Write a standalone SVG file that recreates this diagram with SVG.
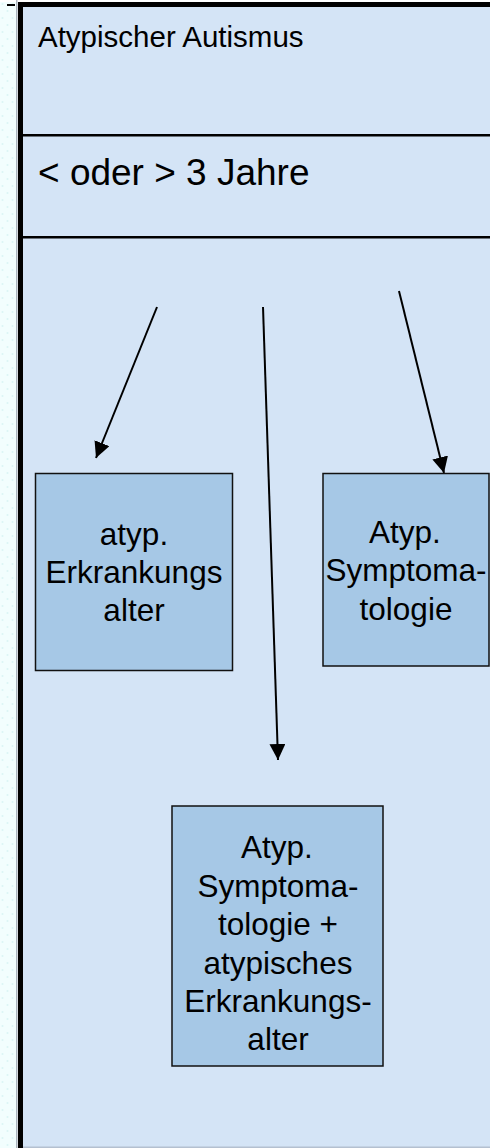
<svg xmlns="http://www.w3.org/2000/svg" width="490" height="1148" viewBox="0 0 490 1148">
  <defs>
    <style>
      .box { fill: #a6c8e6; stroke: #111; stroke-width: 1.5; }
      .t { font-family: "Liberation Sans", Arial, sans-serif; fill: #000; }
      .bt { font-size: 31.5px; text-anchor: middle; }
      .conn line { stroke: #000; stroke-width: 2; marker-end: url(#ah); }
    </style>
    <marker id="ah" markerUnits="userSpaceOnUse" markerWidth="18" markerHeight="17" refX="16" refY="8" orient="auto">
      <path d="M0,0 L16,8 L0,16 z" fill="#000"/>
    </marker>
    <pattern id="dots" width="10" height="14" patternUnits="userSpaceOnUse">
      <rect width="10" height="14" fill="#f2fefe"/>
      <circle cx="2.5" cy="4" r="1" fill="#dcf6f6"/>
      <circle cx="7.5" cy="11" r="1" fill="#dcf6f6"/>
    </pattern>
  </defs>

  <g id="background">
    <rect x="0" y="0" width="17" height="1148" fill="url(#dots)"/>
    <rect x="0" y="0" width="490" height="2" fill="#ffffff"/>
    <rect x="23" y="7" width="467" height="1141" fill="#d4e4f6"/>
    <rect x="16" y="0" width="1.5" height="1148" fill="#a9b3bd"/>
    <rect x="18" y="2" width="5" height="1146" fill="#000"/>
    <rect x="18" y="2" width="472" height="5" fill="#000"/>
    <rect x="7" y="4" width="8" height="2" fill="#000"/>
    <rect x="23" y="1146.5" width="467" height="1.5" fill="#b4c0d0"/>
  </g>

  <g id="header">
    <text class="t" x="38" y="47" font-size="29.5">Atypischer Autismus</text>
    <rect x="23" y="134" width="467" height="2.5" fill="#000"/>
    <text class="t" x="38" y="185" font-size="37">&lt; oder &gt; 3 Jahre</text>
    <rect x="23" y="236" width="467" height="2.5" fill="#000"/>
  </g>

  <g class="conn" id="connectors">
    <line x1="157" y1="307" x2="96" y2="458"/>
    <line x1="263" y1="307" x2="278" y2="760"/>
    <line x1="399" y1="291" x2="444" y2="473"/>
  </g>

  <g id="node-erkrankungsalter">
    <rect class="box" x="35.5" y="473.5" width="197" height="197"/>
    <text class="t bt" x="134" y="545">atyp.</text>
    <text class="t bt" x="134" y="583">Erkrankungs</text>
    <text class="t bt" x="134" y="621">alter</text>
  </g>

  <g id="node-symptomatologie">
    <rect class="box" x="323" y="473.5" width="166" height="192.5"/>
    <text class="t bt" x="405" y="543">Atyp.</text>
    <text class="t bt" x="406" y="581">Symptoma-</text>
    <text class="t bt" x="406" y="620">tologie</text>
  </g>

  <g id="node-kombiniert">
    <rect class="box" x="172" y="806" width="211" height="260"/>
    <text class="t bt" x="277" y="858">Atyp.</text>
    <text class="t bt" x="278" y="896.5">Symptoma-</text>
    <text class="t bt" x="278" y="935">tologie +</text>
    <text class="t bt" x="278" y="973.5">atypisches</text>
    <text class="t bt" x="278" y="1012">Erkrankungs-</text>
    <text class="t bt" x="278" y="1050">alter</text>
  </g>
</svg>
